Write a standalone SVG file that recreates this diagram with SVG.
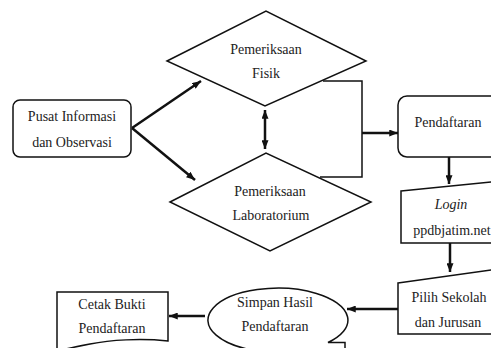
<svg xmlns="http://www.w3.org/2000/svg" width="491" height="348" viewBox="0 0 491 348">
<style>
.shape{fill:#fff;stroke:#111;stroke-width:1.5}
.t{font-family:"Liberation Serif","Times New Roman",serif;font-size:14px;fill:#222;text-anchor:middle}
.it{font-style:italic}
.arr{stroke:#111;stroke-width:2.5;fill:none}
.thin{stroke:#111;stroke-width:1.5;fill:none}
</style>
<defs>
<marker id="ah" viewBox="0 0 10 8" refX="10" refY="4" markerWidth="9" markerHeight="7" markerUnits="userSpaceOnUse" orient="auto-start-reverse">
<path d="M0,0 L10,4 L0,8 Z" fill="#111"/>
</marker>
</defs>
<rect width="491" height="348" fill="#fff"/>
<g id="connectors">
<line class="arr" x1="132" y1="128" x2="201" y2="81" marker-end="url(#ah)"/>
<line class="arr" x1="132" y1="128" x2="195" y2="180" marker-end="url(#ah)"/>
<line class="arr" x1="265" y1="110" x2="265" y2="149" marker-start="url(#ah)" marker-end="url(#ah)"/>
<polyline class="thin" points="323,81 362,81 362,177 320,177"/>
<line class="arr" x1="362" y1="133" x2="398" y2="133" marker-end="url(#ah)"/>
<line class="arr" x1="449" y1="157" x2="449" y2="184" marker-end="url(#ah)"/>
<line class="arr" x1="450" y1="243" x2="450" y2="272" marker-end="url(#ah)"/>
<line class="arr" x1="398" y1="309" x2="347" y2="309" marker-end="url(#ah)"/>
<line class="arr" x1="205" y1="316" x2="169" y2="316" marker-end="url(#ah)"/>
</g>
<g id="pusat">
<rect class="shape" x="13" y="100" width="118" height="57" rx="7"/>
<text class="t" x="72" y="121">Pusat Informasi</text>
<text class="t" x="72" y="147">dan Observasi</text>
</g>
<g id="fisik">
<polygon class="shape" points="167,61 266,11 366,61 265,106"/>
<text class="t" x="266" y="54">Pemeriksaan</text>
<text class="t" x="266" y="78">Fisik</text>
</g>
<g id="lab">
<polygon class="shape" points="170,202 266,153 371,202 270,251"/>
<text class="t" x="270" y="196">Pemeriksaan</text>
<text class="t" x="271" y="220">Laboratorium</text>
</g>
<g id="pendaftaran">
<rect class="shape" x="398" y="96" width="115" height="61" rx="9"/>
<text class="t" x="448" y="127">Pendaftaran</text>
</g>
<g id="login">
<path class="shape" d="M401,191 L500,181 V243 H401 Z"/>
<text class="t it" x="451" y="209">Login</text>
<text class="t" x="452" y="235">ppdbjatim.net</text>
</g>
<g id="pilih">
<path class="shape" d="M398,283 L500,268.7 V334 H398 Z"/>
<text class="t" x="449" y="302">Pilih Sekolah</text>
<text class="t" x="448" y="327">dan Jurusan</text>
</g>
<g id="simpan">
<path class="shape" d="M345,355 V342.5 H328 A70 32 0 1 0 264,351.5"/>
<text class="t" x="275" y="307">Simpan Hasil</text>
<text class="t" x="275" y="331">Pendaftaran</text>
</g>
<g id="cetak">
<path class="shape" d="M57,352 V292 H168 V341 C140,338 110,340 90,344 C75,347 65,349 57,351"/>
<text class="t" x="112" y="309">Cetak Bukti</text>
<text class="t" x="112" y="333">Pendaftaran</text>
</g>
</svg>
